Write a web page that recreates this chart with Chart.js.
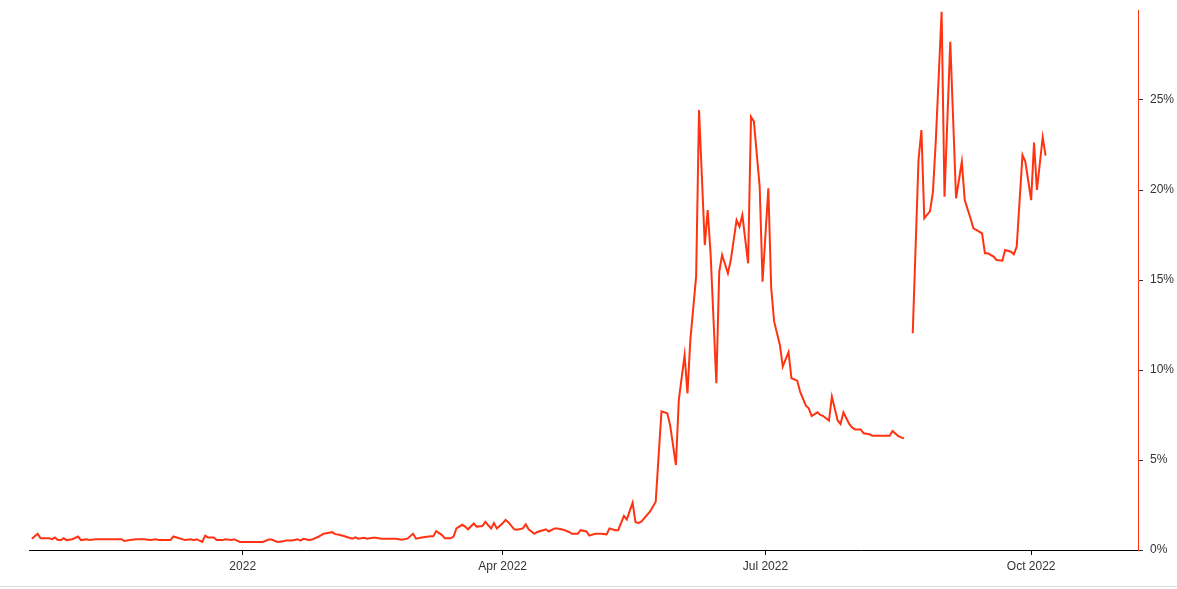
<!DOCTYPE html>
<html>
<head>
<meta charset="utf-8">
<script src="https://cdn.jsdelivr.net/npm/chart.js@4"></script>
<style>
  html, body { margin: 0; padding: 0; background: #fff; }
  #wrap { width: 1177px; height: 586px; border-bottom: 1px solid #dcdcdc; }
  canvas { display: block; }
</style>
</head>
<body>
<div id="wrap"><canvas id="c" width="1177" height="586"></canvas></div>
<script>
const dates = [
 "2021-10-20","2021-10-22","2021-10-23","2021-10-26","2021-10-27","2021-10-28","2021-10-29","2021-10-30","2021-10-31",
 "2021-11-01","2021-11-03","2021-11-05","2021-11-06","2021-11-08","2021-11-09","2021-11-11","2021-11-13","2021-11-16",
 "2021-11-20","2021-11-21","2021-11-23","2021-11-25","2021-11-28","2021-11-30",
 "2021-12-02","2021-12-03","2021-12-07","2021-12-08","2021-12-10","2021-12-12","2021-12-14","2021-12-15","2021-12-16",
 "2021-12-18","2021-12-19","2021-12-20","2021-12-22","2021-12-23","2021-12-25","2021-12-26","2021-12-28","2021-12-29","2021-12-31",
 "2022-01-03","2022-01-08","2022-01-10","2022-01-11","2022-01-13","2022-01-15","2022-01-16","2022-01-18","2022-01-20",
 "2022-01-21","2022-01-22","2022-01-24","2022-01-25","2022-01-27","2022-01-29","2022-01-30",
 "2022-02-01","2022-02-02","2022-02-03","2022-02-05","2022-02-06","2022-02-08","2022-02-09","2022-02-10","2022-02-12",
 "2022-02-13","2022-02-15","2022-02-16","2022-02-18","2022-02-21","2022-02-23","2022-02-25","2022-02-27",
 "2022-03-01","2022-03-02","2022-03-04","2022-03-07","2022-03-08","2022-03-09","2022-03-11","2022-03-12","2022-03-14",
 "2022-03-15","2022-03-16","2022-03-18","2022-03-19","2022-03-20","2022-03-22","2022-03-23","2022-03-25","2022-03-26",
 "2022-03-28","2022-03-29","2022-03-30",
 "2022-04-01","2022-04-02","2022-04-03","2022-04-05","2022-04-06","2022-04-08","2022-04-09","2022-04-10","2022-04-12",
 "2022-04-13","2022-04-15","2022-04-16","2022-04-17","2022-04-19","2022-04-20","2022-04-22","2022-04-24","2022-04-25",
 "2022-04-27","2022-04-28","2022-04-30",
 "2022-05-01","2022-05-03","2022-05-05","2022-05-07","2022-05-08","2022-05-10","2022-05-11","2022-05-13","2022-05-14",
 "2022-05-16","2022-05-17","2022-05-18","2022-05-19","2022-05-22","2022-05-24","2022-05-25","2022-05-26","2022-05-28",
 "2022-05-29","2022-05-31",
 "2022-06-01","2022-06-03","2022-06-04","2022-06-05","2022-06-07","2022-06-08","2022-06-10","2022-06-11","2022-06-12",
 "2022-06-14","2022-06-15","2022-06-16","2022-06-18","2022-06-19","2022-06-21","2022-06-22","2022-06-23","2022-06-25",
 "2022-06-26","2022-06-27","2022-06-29","2022-06-30",
 "2022-07-02","2022-07-03","2022-07-04","2022-07-06","2022-07-07","2022-07-09","2022-07-10","2022-07-12","2022-07-13",
 "2022-07-15","2022-07-16","2022-07-17","2022-07-19","2022-07-20","2022-07-21","2022-07-23","2022-07-24","2022-07-26",
 "2022-07-27","2022-07-28","2022-07-30","2022-07-31",
 "2022-08-01","2022-08-03","2022-08-04","2022-08-06","2022-08-07","2022-08-08","2022-08-10","2022-08-11","2022-08-13",
 "2022-08-14","2022-08-16","2022-08-17","2022-08-18","2022-08-20","2022-08-21","2022-08-23","2022-08-24","2022-08-25",
 "2022-08-27","2022-08-28","2022-08-29","2022-08-31",
 "2022-09-01","2022-09-03","2022-09-04","2022-09-05","2022-09-07","2022-09-08","2022-09-10","2022-09-11","2022-09-12",
 "2022-09-14","2022-09-15","2022-09-16","2022-09-18","2022-09-19","2022-09-21","2022-09-22","2022-09-24","2022-09-25",
 "2022-09-26","2022-09-28","2022-09-29",
 "2022-10-01","2022-10-02","2022-10-03","2022-10-05","2022-10-06"
];
const rates = [
 0.62,0.9,0.65,0.65,0.6,0.7,0.55,0.55,0.65,
 0.55,0.6,0.75,0.55,0.6,0.55,0.6,0.6,0.6,
 0.6,0.5,0.55,0.6,0.6,0.55,
 0.6,0.55,0.55,0.75,0.65,0.55,0.6,0.55,0.6,
 0.45,0.8,0.7,0.7,0.55,0.55,0.6,0.55,0.6,0.45,
 0.45,0.45,0.58,0.58,0.45,0.48,0.53,0.53,0.6,
 0.52,0.62,0.55,0.58,0.72,0.9,0.93,
 0.99,0.88,0.86,0.78,0.72,0.63,0.7,0.63,0.68,
 0.63,0.68,0.68,0.63,0.63,0.63,0.57,0.63,
 0.9,0.63,0.7,0.77,0.77,1.05,0.83,0.65,0.65,
 0.75,1.2,1.4,1.3,1.15,1.47,1.3,1.33,1.56,
 1.2,1.5,1.2,
 1.48,1.67,1.55,1.15,1.13,1.2,1.43,1.15,0.9,
 1.0,1.1,1.15,1.03,1.2,1.2,1.13,1.0,0.9,
 0.9,1.1,1.03,
 0.8,0.9,0.9,0.87,1.2,1.1,1.1,1.89,1.7,
 2.63,1.54,1.5,1.57,2.13,2.68,5.2,7.7,7.6,
 6.94,4.72,
 8.33,10.83,8.7,11.67,15.2,24.44,16.94,18.89,16.48,
 9.26,15.46,16.39,15.37,16.11,18.33,17.96,18.61,15.93,
 24.07,23.8,20.19,14.9,
 20.09,14.54,12.7,11.39,10.19,11.0,9.54,9.41,8.8,
 8.02,7.87,7.44,7.65,7.5,7.44,7.19,8.52,7.19,
 7.0,7.65,7.0,6.81,
 6.7,6.7,6.48,6.43,6.35,6.35,6.35,6.35,6.35,
 6.61,6.33,6.26,6.2,null,12.04,21.67,23.33,18.43,
 18.83,19.91,22.78,29.9,
 19.63,28.24,23.89,19.54,21.57,19.44,18.43,17.87,17.78,
 17.59,16.48,16.48,16.3,16.11,16.07,16.67,16.57,16.43,
 16.85,21.94,21.57,
 19.44,22.63,20.0,22.93,21.91
];
const xTickDates = ["2022-01-01","2022-04-01","2022-07-01","2022-10-01"];
const xTickLabels = ["2022","Apr 2022","Jul 2022","Oct 2022"];
const xRange = ["2021-10-19","2022-11-07"];
const yTicks = [0,5,10,15,20,25];
const yMax = 30;

const ts = s => Date.parse(s + "T00:00:00Z");
const points = dates.map((d, i) => ({ x: ts(d), y: rates[i] }));
const tickVals = xTickDates.map(ts);
const lineColor = "#ff3311";
const font = { family: "'Liberation Sans', Arial, sans-serif", size: 12 };
const noPad = s => { s.paddingTop = 0; s.paddingBottom = 0; s.paddingLeft = 0; s.paddingRight = 0; };

new Chart(document.getElementById("c"), {
  type: "line",
  data: { datasets: [{ data: points, borderColor: lineColor, borderWidth: 2, pointRadius: 0, tension: 0, spanGaps: false, fill: false }] },
  options: {
    responsive: false, animation: false, devicePixelRatio: 1,
    layout: { padding: { left: 29, top: 10, right: 0, bottom: 0 } },
    plugins: { legend: { display: false }, tooltip: { enabled: false } },
    scales: {
      x: {
        type: "linear", min: ts(xRange[0]), max: ts(xRange[1]),
        afterBuildTicks: s => { s.ticks = tickVals.map(v => ({ value: v })); },
        afterFit: s => { s.height = 36; noPad(s); },
        ticks: { autoSkip: false, maxRotation: 0, color: "#333", font, padding: 4,
          callback: v => { const i = tickVals.indexOf(v); return i >= 0 ? xTickLabels[i] : ""; } },
        grid: { drawOnChartArea: false, drawTicks: true, tickLength: 5, color: "#000" },
        border: { display: true, color: "#000", width: 1 }
      },
      y: {
        position: "right", min: 0, max: yMax,
        afterBuildTicks: s => { s.ticks = yTicks.map(v => ({ value: v })); },
        afterFit: s => { s.width = 39; noPad(s); },
        ticks: { color: "#333", font, padding: 7, callback: v => v + "%" },
        grid: { drawOnChartArea: false, drawTicks: true, tickLength: 5, color: "#333" },
        border: { display: true, color: lineColor, width: 1 }
      }
    }
  }
});
</script>
</body>
</html>
